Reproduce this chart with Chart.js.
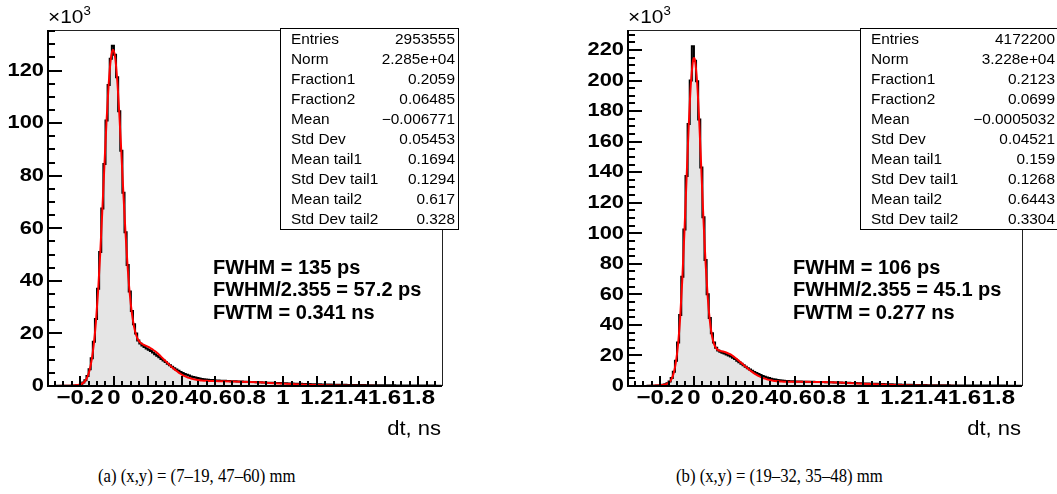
<!DOCTYPE html>
<html>
<head>
<meta charset="utf-8">
<script src="https://cdn.jsdelivr.net/npm/chart.js@4.4.1/dist/chart.umd.min.js"></script>
<style>
  html, body { margin: 0; padding: 0; background: #fff; }
  body { width: 1057px; height: 494px; position: relative; overflow: hidden; }
  canvas { position: absolute; top: 0; }
  .caption { position: absolute; top: 465px; font-family: "Liberation Serif", "Times New Roman", serif; font-size: 19px; line-height: 22px; color: #000; white-space: nowrap; transform: scaleX(0.88); transform-origin: left center; }
</style>
</head>
<body>
<canvas id="histA" width="530" height="440" style="left:0"></canvas>
<canvas id="histB" width="477" height="440" style="left:580px"></canvas>
<div class="caption" style="left:98px">(a) (x,y) = (7–19, 47–60) mm</div>
<div class="caption" style="left:676px">(b) (x,y) = (19–32, 35–48) mm</div>
<script>
// binning of dt (ns); contents are in units of 10^3 entries
const binStart = -0.3875;
const binWidth = 0.0125;

const countsA = [
  0.03, 0.03, 0.04, 0.04, 0.05, 0.05, 0.06, 0.07, 0.08, 0.1, 0.12, 0.15, 0.2, 0.28, 0.42,
  0.8, 1.3, 2.2, 3.8, 6.4, 10.6, 16.8, 25.5, 37.0, 51.0,
  67.5, 84.5, 101.0, 114.5, 124.5, 129.5, 126.0, 117.5, 104.5, 89.5,
  73.5, 58.5, 46.0, 36.0, 28.5, 23.5, 20.0, 17.3, 16.2, 15.4,
  14.8, 14.3, 13.8, 13.3, 12.7, 12.1, 11.5, 10.9, 10.3, 9.7,
  9.1,
  8.5, 7.9, 7.35, 6.8, 6.3, 5.8, 5.35, 4.95, 4.6, 4.25,
  3.95, 3.65, 3.4, 3.2, 3.0, 2.82, 2.68, 2.56, 2.46, 2.38,
  2.3, 2.24, 2.18, 2.13, 2.08,
  2.02, 1.98, 1.95, 1.92, 1.88, 1.85, 1.82, 1.78, 1.75, 1.72,
  1.68, 1.65, 1.62, 1.58, 1.55, 1.52, 1.48, 1.45, 1.42, 1.38,
  1.35, 1.32, 1.28, 1.25, 1.22, 1.19, 1.16, 1.13, 1.1, 1.07,
  1.04, 1.01, 0.98, 0.95, 0.93, 0.9, 0.87, 0.85, 0.82, 0.8,
  0.78, 0.75, 0.73, 0.71, 0.69, 0.67, 0.65, 0.63, 0.61, 0.59,
  0.57, 0.56, 0.54, 0.52, 0.51, 0.49, 0.48, 0.46, 0.45, 0.44,
  0.42, 0.41, 0.4, 0.39, 0.38, 0.37, 0.36, 0.35, 0.34, 0.33,
  0.32, 0.31, 0.3, 0.3, 0.29, 0.28, 0.27, 0.27, 0.26, 0.25,
  0.25, 0.24, 0.24, 0.23, 0.22, 0.22, 0.21, 0.21, 0.2, 0.2,
  0.19, 0.19, 0.18, 0.18, 0.17, 0.17, 0.17, 0.16, 0.16, 0.15,
  0.15, 0.15, 0.14, 0.14, 0.14
];

const countsB = [
  0.03, 0.03, 0.04, 0.04, 0.05, 0.05, 0.06, 0.07, 0.08, 0.1, 0.12, 0.15, 0.2, 0.27, 0.4,
  0.6, 0.85, 1.2, 1.8, 3.0, 5.2, 9.3, 16.5, 28.5, 46.5,
  71.5, 102.5, 137.5, 171.5, 200.0, 222.5, 213.0, 199.5, 174.5, 143.0,
  110.5, 82.5, 60.0, 44.5, 34.5, 28.5, 25.0, 23.2, 22.4, 21.8,
  21.2, 20.6, 20.0, 19.3, 18.5, 17.6, 16.6, 15.6, 14.6, 13.6,
  12.6,
  11.7, 10.8, 10.0, 9.2, 8.5, 7.8, 7.2, 6.6, 6.1, 5.6,
  5.2, 4.8, 4.5, 4.2, 3.95, 3.75, 3.55, 3.4, 3.3, 3.2,
  3.12, 3.06, 3.0, 2.95, 2.91,
  2.87, 2.84, 2.82, 2.8, 2.77, 2.75, 2.72, 2.69, 2.66, 2.63,
  2.6, 2.56, 2.53, 2.49, 2.45, 2.41, 2.37, 2.33, 2.28, 2.24,
  2.19, 2.15, 2.1, 2.05, 2.0, 1.95, 1.9, 1.85, 1.8, 1.75,
  1.7, 1.65, 1.6, 1.55, 1.5, 1.45, 1.4, 1.35, 1.31, 1.26,
  1.22, 1.17, 1.13, 1.09, 1.05, 1.01, 0.97, 0.93, 0.9, 0.86,
  0.83, 0.8, 0.77, 0.74, 0.71, 0.68, 0.66, 0.63, 0.61, 0.59,
  0.57, 0.55, 0.53, 0.51, 0.49, 0.48, 0.46, 0.45, 0.43, 0.42,
  0.41, 0.4, 0.39, 0.38, 0.37, 0.36, 0.35, 0.34, 0.33, 0.33,
  0.32, 0.31, 0.31, 0.3, 0.3, 0.29, 0.29, 0.28, 0.28, 0.27,
  0.27, 0.26, 0.26, 0.26, 0.25, 0.25, 0.25, 0.24, 0.24, 0.24,
  0.23, 0.23, 0.23, 0.22, 0.22
];

// fitted function, sampled along dt (ns) -> 10^3 entries
const fitTimeA = [
  -0.39, -0.35, -0.3, -0.25, -0.225, -0.20625,
  -0.19375, -0.18125, -0.16875, -0.15625, -0.14375, -0.13125, -0.11875, -0.10625, -0.09375, -0.08125,
  -0.06875, -0.05625, -0.04375, -0.03125, -0.01875, -0.0068, 0.00625, 0.01875, 0.03125, 0.04375,
  0.05625, 0.06875, 0.08125, 0.09375, 0.10625, 0.11875, 0.13125, 0.14375, 0.15625, 0.16875,
  0.18125, 0.19375, 0.20625, 0.21875, 0.23125, 0.24375, 0.25625, 0.26875, 0.28125, 0.29375,
  0.30625, 0.31875, 0.33125, 0.34375, 0.35625, 0.36875, 0.38125, 0.39375, 0.40625, 0.41875,
  0.43125, 0.44375, 0.45625, 0.46875, 0.48125, 0.49375, 0.50625, 0.51875, 0.53125, 0.54375,
  0.55625, 0.56875, 0.58125, 0.6, 0.65, 0.7, 0.75, 0.8, 0.85, 0.9, 0.95, 1.0,
  1.05, 1.1, 1.15, 1.2, 1.25, 1.3, 1.35, 1.4, 1.45, 1.5, 1.6, 1.7, 1.8, 1.94
];
const fitValueA = [
  0.02, 0.03, 0.05, 0.14, 0.25, 0.44,
  0.71, 1.19, 2.05, 3.56, 6.08, 10.1, 16.1, 24.7, 36.1, 50.3,
  66.8, 84.1, 100.9, 114.8, 124.3, 127.9, 125.4, 116.9, 104.1, 88.8,
  72.7, 57.8, 45.0, 34.9, 27.6, 22.6, 19.4, 17.5, 16.5, 15.9,
  15.5, 15.2, 14.8, 14.3, 13.8, 13.2, 12.55, 11.8, 11.0, 10.2,
  9.4, 8.6, 7.86, 7.12, 6.42, 5.78, 5.19, 4.66, 4.18, 3.77,
  3.4, 3.09, 2.83, 2.62, 2.45, 2.3, 2.19, 2.1, 2.03, 1.97,
  1.94, 1.9, 1.88, 1.86, 1.81, 1.74, 1.66, 1.54, 1.4, 1.24, 1.08, 0.91,
  0.75, 0.61, 0.48, 0.37, 0.28, 0.21, 0.15, 0.1, 0.07, 0.05, 0.02, 0.01, 0.0, 0.0
];

const fitTimeB = [
  -0.39, -0.3, -0.25, -0.225, -0.20625,
  -0.19375, -0.18125, -0.16875, -0.15625, -0.14375, -0.13125, -0.11875, -0.10625, -0.09375, -0.08125,
  -0.06875, -0.05625, -0.04375, -0.03125, -0.01875, -0.00625, 0.0, 0.00625, 0.01875, 0.03125, 0.04375,
  0.05625, 0.06875, 0.08125, 0.09375, 0.10625, 0.11875, 0.13125, 0.14375, 0.15625, 0.16875,
  0.18125, 0.19375, 0.20625, 0.21875, 0.23125, 0.24375, 0.25625, 0.26875, 0.28125, 0.29375,
  0.30625, 0.31875, 0.33125, 0.34375, 0.35625, 0.36875, 0.38125, 0.39375, 0.40625, 0.41875,
  0.43125, 0.44375, 0.45625, 0.46875, 0.48125, 0.49375, 0.50625, 0.51875, 0.53125, 0.54375,
  0.55625, 0.575, 0.6, 0.65, 0.7, 0.75, 0.8, 0.85, 0.9, 0.95, 1.0,
  1.05, 1.1, 1.15, 1.2, 1.25, 1.3, 1.35, 1.4, 1.45, 1.5, 1.6, 1.7, 1.8, 1.94
];
const fitValueB = [
  0.01, 0.04, 0.19, 0.31, 0.44,
  0.58, 0.78, 1.09, 1.66, 2.75, 4.85, 8.82, 15.9, 27.5, 45.3,
  70.0, 101.0, 135.7, 169.5, 196.9, 212.4, 214.7, 213.1, 198.9, 173.3, 141.5,
  109.1, 80.6, 58.4, 42.9, 33.1, 27.6, 24.8, 23.5, 23.0, 22.65,
  22.3, 21.8, 21.2, 20.5, 19.6, 18.55, 17.4, 16.25, 15.0, 13.8,
  12.6, 11.4, 10.3, 9.25, 8.29, 7.41, 6.62, 5.92, 5.32, 4.8,
  4.36, 4.0, 3.7, 3.46, 3.26, 3.11, 3.01, 2.92, 2.86, 2.82,
  2.79, 2.76, 2.74, 2.72, 2.69, 2.58, 2.44, 2.25, 2.02, 1.78, 1.52,
  1.28, 1.05, 0.84, 0.66, 0.51, 0.38, 0.28, 0.2, 0.14, 0.095, 0.04, 0.016, 0.006, 0.0
];

// axes
const xMin = -0.39, xMax = 1.94;
const yMaxA = 135.45, yMaxB = 233.1;
const xLabelValues = [-0.2, 0, 0.2, 0.4, 0.6, 0.8, 1, 1.2, 1.4, 1.6, 1.8];
const xLabelTexts = ['\u22120.2', '0', '0.2', '0.4', '0.6', '0.8', '1', '1.2', '1.4', '1.6', '1.8'];
const yLabelsA = [0, 20, 40, 60, 80, 100, 120];
const yLabelsB = [0, 20, 40, 60, 80, 100, 120, 140, 160, 180, 200, 220];

// statistics box and fit summary
const statNames = ['Entries', 'Norm', 'Fraction1', 'Fraction2', 'Mean', 'Std Dev',
                   'Mean tail1', 'Std Dev tail1', 'Mean tail2', 'Std Dev tail2'];
const statsA = ['2953555', '2.285e+04', '0.2059', '0.06485', '\u22120.006771', '0.05453',
                '0.1694', '0.1294', '0.617', '0.328'];
const statsB = ['4172200', '3.228e+04', '0.2123', '0.0699', '\u22120.0005032', '0.04521',
                '0.159', '0.1268', '0.6443', '0.3304'];
const notesA = ['FWHM = 135 ps', 'FWHM/2.355 = 57.2 ps', 'FWTM = 0.341 ns'];
const notesB = ['FWHM = 106 ps', 'FWHM/2.355 = 45.1 ps', 'FWTM = 0.277 ns'];

const SANS = '"Liberation Sans", Arial, Helvetica, sans-serif';

// text drawn with a horizontal stretch factor
function stretchText(ctx, text, x, y, align, font, sx) {
    ctx.save();
    ctx.font = font;
    ctx.textBaseline = 'middle';
    ctx.textAlign = 'left';
    const w = ctx.measureText(text).width * sx;
    const x0 = align === 'right' ? x - w : (align === 'center' ? x - w / 2 : x);
    ctx.translate(x0, y);
    ctx.scale(sx, 1);
    ctx.fillStyle = '#000';
    ctx.fillText(text, 0, 0);
    ctx.restore();
    return w;
}

// ROOT style frame, inward ticks, labels, stats box and annotations
const rootPad = {
    id: 'rootPad',
    afterDatasetsDraw(chart, args, o) {
        const ctx = chart.ctx;
        const a = chart.chartArea;
        const xs = chart.scales.x, ys = chart.scales.y;
        ctx.save();

        ctx.strokeStyle = '#222';
        ctx.lineWidth = 1;
        ctx.beginPath();
        ctx.moveTo(a.left, a.top + 0.5);
        ctx.lineTo(a.right + 0.5, a.top + 0.5);
        ctx.lineTo(a.right + 0.5, a.bottom);
        ctx.stroke();

        ctx.strokeStyle = '#000';
        ctx.lineWidth = 2;
        ctx.beginPath();
        ctx.moveTo(a.left, a.top);
        ctx.lineTo(a.left, a.bottom);
        ctx.lineTo(a.right, a.bottom);
        ctx.stroke();

        // y ticks: every 5, long ones every 20
        ctx.beginPath();
        for (let k = 0; k * 5 <= ys.max; k++) {
            const py = Math.round(ys.getPixelForValue(k * 5));
            const len = k % 4 === 0 ? 14 : 7;
            ctx.moveTo(a.left, py);
            ctx.lineTo(a.left + len, py);
        }
        // x ticks: every 0.05, long ones every 0.2
        for (let k = Math.ceil(xs.min / 0.05); k * 0.05 <= xs.max; k++) {
            const px = Math.round(xs.getPixelForValue(k * 0.05));
            const len = k % 4 === 0 ? 10 : 5;
            ctx.moveTo(px, a.bottom);
            ctx.lineTo(px, a.bottom - len);
        }
        ctx.stroke();

        const tickFont = 'bold 19px ' + SANS;
        o.yLabels.forEach(v => {
            stretchText(ctx, String(v), a.left - 4, ys.getPixelForValue(v), 'right', tickFont, 1.15);
        });
        xLabelValues.forEach((v, i) => {
            stretchText(ctx, xLabelTexts[i], xs.getPixelForValue(v), a.bottom + 12, 'center', 'bold 20px ' + SANS, 1.2);
        });

        // exponent of the y axis
        const w = stretchText(ctx, '\u00d710', a.left, 18, 'left', '19px ' + SANS, 1.1);
        stretchText(ctx, '3', a.left + w, 12, 'left', '12px ' + SANS, 1.1);

        // axis title
        stretchText(ctx, 'dt, ns', a.right - 1, 429, 'right', '20px ' + SANS, 1.1);

        // statistics box
        const bx = 280.5, by = 28.5, bw = o.boxRight - 280, bh = 201;
        ctx.fillStyle = '#fff';
        ctx.fillRect(bx, by, bw, bh);
        ctx.strokeStyle = '#000';
        ctx.lineWidth = 1;
        ctx.strokeRect(bx, by, bw, bh);
        statNames.forEach((name, i) => {
            const ty = 40 + i * 20;
            stretchText(ctx, name, 291, ty, 'left', '14px ' + SANS, 1.1);
            stretchText(ctx, o.stats[i], o.valueRight, ty, 'right', '14px ' + SANS, 1.1);
        });

        o.notes.forEach((line, i) => {
            stretchText(ctx, line, 213, 268 + i * 22.5, 'left', 'bold 20px ' + SANS, 1.0);
        });
        ctx.restore();
    }
};

function histPoints(counts) {
    const pts = counts.map((c, i) => ({x: binStart + i * binWidth, y: c}));
    pts.push({x: binStart + counts.length * binWidth, y: counts[counts.length - 1]});
    return pts;
}

function drawHist(canvasId, counts, fitT, fitV, yMax, yLabels, stats, notes, boxRight, valueRight) {
    const el = document.getElementById(canvasId);
    new Chart(el, {
        type: 'line',
        data: {
            datasets: [
                {
                    label: 'fit',
                    data: fitT.map((t, i) => ({x: t, y: fitV[i]})),
                    borderColor: '#ff0000',
                    borderWidth: 2,
                    pointRadius: 0,
                    cubicInterpolationMode: 'monotone',
                    fill: false,
                    order: 0
                },
                {
                    label: 'dt',
                    data: histPoints(counts),
                    stepped: true,
                    borderColor: '#000000',
                    borderWidth: 2,
                    backgroundColor: '#e5e5e5',
                    fill: 'origin',
                    pointRadius: 0,
                    order: 1
                }
            ]
        },
        options: {
            responsive: false,
            animation: false,
            events: [],
            layout: {
                padding: {left: 48, top: 30, right: el.width - 442, bottom: el.height - 386}
            },
            plugins: {
                legend: {display: false},
                tooltip: {enabled: false},
                rootPad: {yLabels: yLabels, stats: stats, notes: notes, boxRight: boxRight, valueRight: valueRight}
            },
            scales: {
                x: {type: 'linear', display: false, min: xMin, max: xMax},
                y: {type: 'linear', display: false, min: 0, max: yMax}
            }
        },
        plugins: [rootPad]
    });
}

drawHist('histA', countsA, fitTimeA, fitValueA, yMaxA, yLabelsA, statsA, notesA, 458, 455);
drawHist('histB', countsB, fitTimeB, fitValueB, yMaxB, yLabelsB, statsB, notesB, 480, 475);
</script>
</body>
</html>
